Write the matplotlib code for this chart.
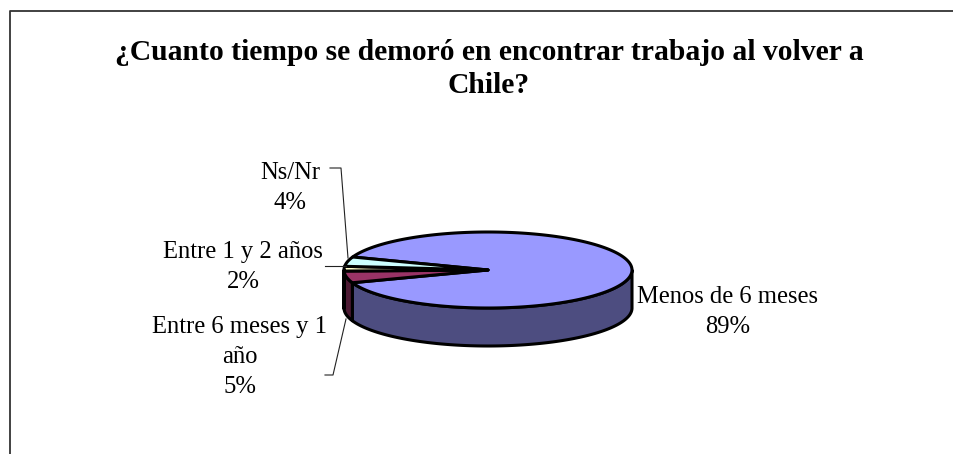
import numpy as np
import matplotlib
matplotlib.use('Agg')
import matplotlib.pyplot as plt

labels = ['Menos de 6 meses', 'Entre 6 meses y 1\naño', 'Entre 1 y 2 años', 'Ns/Nr']
values = [89, 5, 2, 4]
colors = ['#9999FF', '#993366', '#FFFFCC', '#CCFFFF']
side_colors = ['#4D4D80', '#4D1A33', '#808066', '#668080']
title = '¿Cuanto tiempo se demoró en encontrar trabajo al volver a\nChile?'

plt.rcParams['font.family'] = ['Liberation Serif', 'DejaVu Serif']

W, H = 954, 454
cx, cy, rx, ry, depth = 488, 270, 144, 38, 38
start = 160.0

fig = plt.figure(figsize=(W / 100, H / 100), dpi=100)
ax = fig.add_axes([0, 0, 1, 1])
ax.set_xlim(0, W)
ax.set_ylim(H, 0)
ax.axis('off')

# chart frame, only top and left are inside the picture
ax.plot([10.5, 10.5, W], [H, 10.5, 10.5], color='#333333', lw=1.3)


def rim(a, b):
    t = np.radians(np.linspace(a, b, 200))
    return cx + rx * np.cos(t), cy - ry * np.sin(t)


# slice angles, clockwise from the upper left
ends = start - np.cumsum(values) * 3.6
begins = np.r_[start, ends[:-1]]

# side wall: only the part facing us (180..360 degrees)
for a, b, side in zip(begins, ends, side_colors):
    for shift in (0, -360):
        lo, hi = max(b, 180 + shift), min(a, 360 + shift)
        if hi <= lo:
            continue
        x, y = rim(hi, lo)
        ax.fill(np.r_[x, x[::-1]], np.r_[y, y[::-1] + depth], fc=side, ec='black', lw=2.2, joinstyle='round')

# top face
for a, b, c in zip(begins, ends, colors):
    x, y = rim(a, b)
    ax.fill(np.r_[cx, x], np.r_[cy, y], fc=c, ec='black', lw=2.2, joinstyle='round')

ax.text(489, 69, title, ha='center', va='center', fontsize=21.3, fontweight='bold',
        linespacing=1.33, color='black')

label_pos = [(728, 312), (240, 357), (243, 267), (290, 188)]
for lab, v, (tx, ty) in zip(labels, values, label_pos):
    ax.text(tx, ty, '%s\n%d%%' % (lab, v), ha='center', va='center', fontsize=17.7,
            linespacing=1.46, color='black')

# leader lines
ax.plot([330, 341, 348], [168, 168, 258], color='#222222', lw=0.8)
ax.plot([325, 346], [266, 266], color='#222222', lw=0.8)
ax.plot([346, 333, 325], [319, 375, 375], color='#222222', lw=0.8)

fig.savefig('out.png', dpi=100, facecolor='white')
